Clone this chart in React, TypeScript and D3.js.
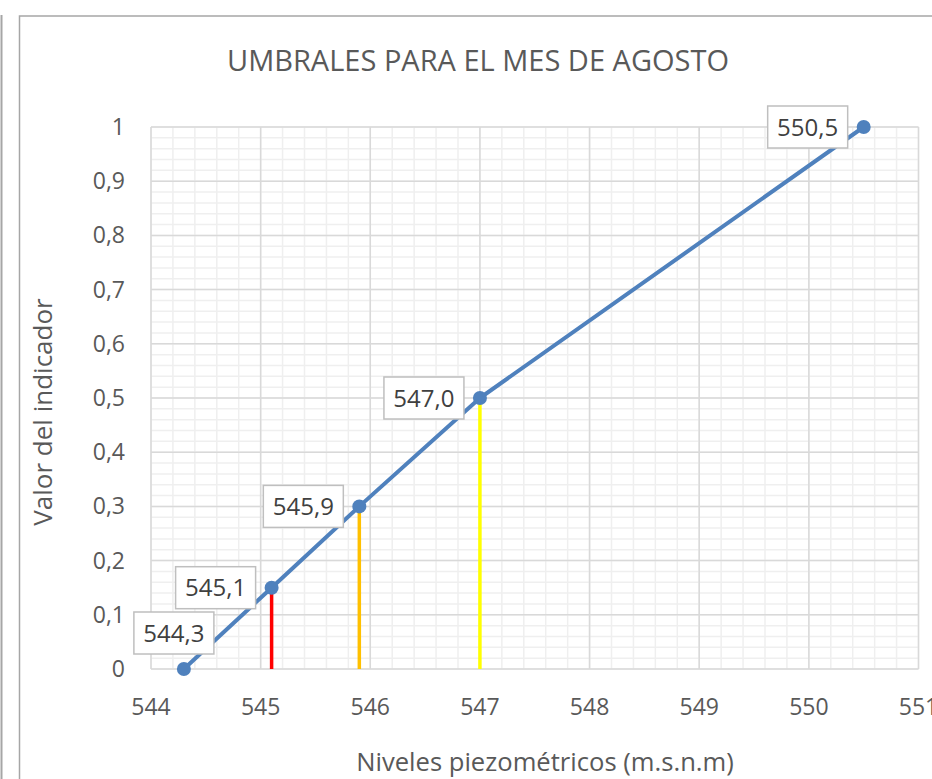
import React from "react";
import * as d3 from "d3";

const levels = [544.3, 545.1, 545.9, 547.0, 550.5];
const indicator = [0, 0.15, 0.3, 0.5, 1];
const pointLabels = ["544,3", "545,1", "545,9", "547,0", "550,5"];
const thresholdLevels = [545.1, 545.9, 547.0];
const thresholdValues = [0.15, 0.3, 0.5];
const thresholdColors = ["#ff0000", "#ffc000", "#ffff00"];
const xTicks = [544, 545, 546, 547, 548, 549, 550, 551];
const yTicks = [0, 0.1, 0.2, 0.3, 0.4, 0.5, 0.6, 0.7, 0.8, 0.9, 1];
const labelPlacement = ["above", "left", "left", "left", "left"];

const W = 932;
const H = 779;
const FONT = "'Open Sans', sans-serif";
const TEXT = "#595959";

export default function App() {
  const x = d3.scaleLinear().domain([544, 551]).range([151, 918.5]);
  const y = d3.scaleLinear().domain([0, 1]).range([669, 127]);

  const minorX = d3.range(0, 36).map((i) => 544 + i * 0.2);
  const minorY = d3.range(0, 51).map((i) => i * 0.02);

  const line = d3
    .line<number>()
    .x((_, i) => x(levels[i]))
    .y((d) => y(d));

  const fmtY = (v: number) => (v === 0 ? "0" : v === 1 ? "1" : d3.format(".1f")(v).replace(".", ","));

  const boxW = 80;
  const boxH = 42;

  return (
    <svg
      width={W}
      height={H}
      style={{ position: "absolute", left: 0, top: 0, background: "#fff" }}
      fontFamily={FONT}
    >
      <rect x={0} y={0} width={W} height={H} fill="#fff" />
      {/* left frame from neighbouring chart */}
      <line x1={1.5} x2={1.5} y1={15} y2={H} stroke="#a6a6a6" strokeWidth={2} />
      {/* chart border */}
      <rect x={19.5} y={16} width={W + 10} height={H + 10} fill="#fff" stroke="#a6a6a6" strokeWidth={1.5} />

      {/* minor grid */}
      {minorX.map((v, i) => (
        <line key={"mx" + i} x1={x(v)} x2={x(v)} y1={y(0)} y2={y(1)} stroke="#efefef" strokeWidth={1.5} />
      ))}
      {minorY.map((v, i) => (
        <line key={"my" + i} x1={x(544)} x2={x(551)} y1={y(v)} y2={y(v)} stroke="#efefef" strokeWidth={1.5} />
      ))}
      {/* major grid */}
      {xTicks.map((v) => (
        <line key={"gx" + v} x1={x(v)} x2={x(v)} y1={y(0)} y2={y(1)} stroke="#d9d9d9" strokeWidth={1.5} />
      ))}
      {yTicks.map((v) => (
        <line key={"gy" + v} x1={x(544)} x2={x(551)} y1={y(v)} y2={y(v)} stroke="#d9d9d9" strokeWidth={1.5} />
      ))}

      {/* threshold lines */}
      {thresholdLevels.map((lv, i) => (
        <line
          key={"t" + i}
          x1={x(lv)}
          x2={x(lv)}
          y1={y(0)}
          y2={y(thresholdValues[i])}
          stroke={thresholdColors[i]}
          strokeWidth={3.5}
        />
      ))}

      {/* series */}
      <path d={line(indicator) || ""} fill="none" stroke="#4f81bd" strokeWidth={4} strokeLinejoin="round" />
      {indicator.map((v, i) => (
        <circle key={"p" + i} cx={x(levels[i])} cy={y(v)} r={7} fill="#4f81bd" />
      ))}

      {/* data labels */}
      {indicator.map((v, i) => {
        const px = x(levels[i]);
        const py = y(v);
        const cx = labelPlacement[i] === "left" ? px - 56 : px - 10;
        const cy = labelPlacement[i] === "left" ? py : py - 36;
        return (
          <g key={"l" + i}>
            <rect
              x={cx - boxW / 2}
              y={cy - boxH / 2}
              width={boxW}
              height={boxH}
              fill="#fff"
              stroke="#bfbfbf"
              strokeWidth={1.5}
            />
            <text x={cx} y={cy + 8.5} textAnchor="middle" fontSize={24} fill="#404040">
              {pointLabels[i]}
            </text>
          </g>
        );
      })}

      {/* axis tick labels */}
      {xTicks.map((v) => (
        <text key={"xt" + v} x={x(v)} y={715} textAnchor="middle" fontSize={23} fill={TEXT}>
          {v}
        </text>
      ))}
      {yTicks.map((v) => (
        <text key={"yt" + v} x={125} y={y(v) + 8} textAnchor="end" fontSize={23} fill={TEXT}>
          {fmtY(v)}
        </text>
      ))}

      {/* titles */}
      <text x={478} y={71} textAnchor="middle" fontSize={29} fill={TEXT}>
        UMBRALES PARA EL MES DE AGOSTO
      </text>
      <text x={545} y={771} textAnchor="middle" fontSize={25.6} fill={TEXT}>
        Niveles piezométricos (m.s.n.m)
      </text>
      <text
        transform={`translate(52, 412) rotate(-90)`}
        textAnchor="middle"
        fontSize={26}
        fill={TEXT}
      >
        Valor del indicador
      </text>
    </svg>
  );
}
